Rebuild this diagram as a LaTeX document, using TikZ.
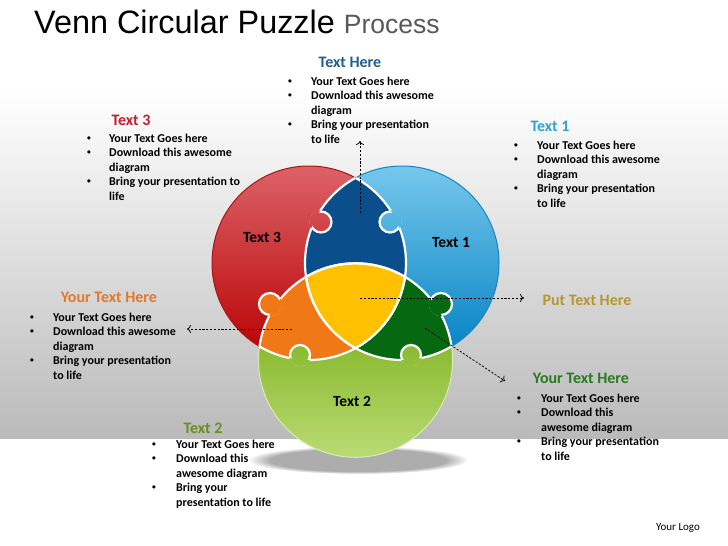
\documentclass[tikz,border=0pt]{standalone}
\usepackage{fontspec}
\setmainfont{Carlito}
\newfontfamily\arialfont{Liberation Sans}
\usetikzlibrary{fadings,arrows.meta}
\definecolor{bgbot}{RGB}{186,186,186}
\definecolor{rtop}{RGB}{220,98,104}
\definecolor{rbot}{RGB}{184,0,0}
\definecolor{routl}{RGB}{170,20,20}
\definecolor{btop}{RGB}{118,200,236}
\definecolor{bbot}{RGB}{0,128,194}
\definecolor{boutl}{RGB}{20,135,195}
\definecolor{gtop}{RGB}{104,163,0}
\definecolor{gbot}{RGB}{186,219,116}
\definecolor{goutl}{RGB}{215,235,180}
\definecolor{dkblue}{RGB}{11,78,140}
\definecolor{orng}{RGB}{240,120,22}
\definecolor{dkgreen}{RGB}{6,104,16}
\definecolor{yel}{RGB}{255,192,0}
\definecolor{hblue}{RGB}{33,94,145}
\definecolor{hred}{RGB}{192,32,42}
\definecolor{hlblue}{RGB}{47,163,217}
\definecolor{horange}{RGB}{226,119,46}
\definecolor{hgold}{RGB}{184,150,46}
\definecolor{hgreen}{RGB}{42,123,31}
\definecolor{hlime}{RGB}{107,142,35}
\definecolor{ttlgray}{RGB}{89,89,89}
\def\RC{(309,263) circle[radius=97]}
\def\BC{(402,263) circle[radius=97]}
\def\GC{(355.5,360.3) circle[radius=97]}
\def\BIG{(0,0) rectangle (728,546)}
\newcommand\bul{\raisebox{1.6pt}{\fontsize{7.5}{8}\selectfont •}}
\begin{document}
\begin{tikzpicture}[x=1pt,y=-1pt,
  wl/.style={draw=white,line width=2.2pt},
  redsh/.style={top color=rtop,bottom color=rbot},
  bluesh/.style={top color=btop,bottom color=bbot},
  grsh/.style={top color=gtop,bottom color=gbot},
  conn/.style={dash pattern=on 2.2pt off 1.6pt,line width=0.75pt,-{To[length=4pt,width=8pt]}},
  hd/.style={font=\fontsize{16}{19}\selectfont\bfseries,anchor=base,inner sep=0pt},
  lst/.style={font=\fontsize{12}{14.5}\selectfont\bfseries,anchor=base west,inner sep=0pt,align=left},
  lbl/.style={font=\fontsize{15.5}{18}\selectfont\bfseries,anchor=base,inner sep=0pt}]
\useasboundingbox \BIG;
% background
\fill[white] \BIG;
\shade[top color=white,bottom color=bgbot] (0,90) rectangle (728,438);
% shadow
\fill[black,opacity=0.32,path fading=circle with fuzzy edge 20 percent] (358,460) ellipse [x radius=110,y radius=14];
% circles
\shade[redsh] \RC; \draw[routl,line width=1pt] \RC;
\shade[bluesh] \BC; \draw[boutl,line width=1pt] \BC;
\shade[grsh] \GC; \draw[goutl,line width=1pt] \GC;
% lenses
\begin{scope}\clip \RC; \fill[dkblue] \BC; \end{scope}
\begin{scope}\clip \RC; \fill[orng] \GC; \end{scope}
\begin{scope}\clip \BC; \fill[dkgreen] \GC; \end{scope}
\begin{scope}\clip \RC; \clip \BC; \fill[yel] \GC; \end{scope}
% internal white arcs
\begin{scope}\clip \RC; \draw[wl] \BC; \draw[wl] \GC; \end{scope}
\begin{scope}\clip \BC; \draw[wl] \RC; \draw[wl] \GC; \end{scope}
\begin{scope}\clip \GC; \draw[wl] \RC; \draw[wl] \BC; \end{scope}
% knob: red into dark blue
\begin{scope}\clip (321,222) circle[radius=10.5]; \shade[redsh] \RC; \end{scope}
\draw[wl] (321,222) circle[radius=10.5];
\begin{scope}[even odd rule]\clip \BIG \BC; \clip (321,222) circle[radius=11.8]; \shade[redsh] \RC; \end{scope}
% knob: blue into dark blue
\begin{scope}\clip (390,222) circle[radius=10.5]; \shade[bluesh] \BC; \end{scope}
\draw[wl] (390,222) circle[radius=10.5];
\begin{scope}[even odd rule]\clip \BIG \RC; \clip (390,222) circle[radius=11.8]; \shade[bluesh] \BC; \end{scope}
% knob: orange into red
\fill[orng] (270,304) circle[radius=11]; \draw[wl] (270,304) circle[radius=11];
\begin{scope}\clip \GC; \fill[orng] (270,304) circle[radius=12.3]; \end{scope}
% knob: dark green into blue
\fill[dkgreen] (441,304) circle[radius=11]; \draw[wl] (441,304) circle[radius=11];
\begin{scope}\clip \GC; \fill[dkgreen] (441,304) circle[radius=12.3]; \end{scope}
% knob: lime into orange
\begin{scope}\clip (300,355) circle[radius=10]; \shade[grsh] \GC; \end{scope}
\draw[wl] (300,355) circle[radius=10];
\begin{scope}[even odd rule]\clip \BIG \RC; \clip (300,355) circle[radius=11.3]; \shade[grsh] \GC; \end{scope}
% knob: lime into dark green
\begin{scope}\clip (411,355) circle[radius=10]; \shade[grsh] \GC; \end{scope}
\draw[wl] (411,355) circle[radius=10];
\begin{scope}[even odd rule]\clip \BIG \BC; \clip (411,355) circle[radius=11.3]; \shade[grsh] \GC; \end{scope}
% circle labels
\node[lbl] (t3) at (262,242) {Text 3};
\node[lbl] (t1) at (451,247) {Text 1};
\node[lbl] (t2) at (352,406) {Text 2};
% connectors
\coordinate (c1s) at (360,213); \coordinate (c1e) at (360,141);
\coordinate (c2s) at (360,298); \coordinate (c2e) at (524,298);
\coordinate (c3s) at (292,329); \coordinate (c3e) at (187,329);
\coordinate (c4s) at (425,328); \coordinate (c4e) at (505,381);
\draw[conn] (c1s) -- (c1e);
\draw[conn] (c2s) -- (c2e);
\draw[conn] (c3s) -- (c3e);
\draw[conn] (c4s) -- (c4e);
% title
\node[anchor=base west,inner sep=0pt,font=\arialfont\fontsize{32.4}{37}\selectfont] (title) at (34,33) {Venn Circular Puzzle \textcolor{ttlgray}{\fontsize{26.5}{30}\selectfont Process}};
% headers
\node[hd,text=hblue] (h0) at (350,67) {Text Here};
\node[hd,text=hred] (h3) at (131,125) {Text 3};
\node[hd,text=hlblue] (h1) at (550,131) {Text 1};
\node[hd,text=horange] (hl) at (109,302) {Your Text Here};
\node[hd,text=hgold] (hp) at (587,305) {Put Text Here};
\node[hd,text=hgreen] (hr) at (581,383) {Your Text Here};
\node[hd,text=hlime] (h2) at (203,433) {Text 2};
% lists
\node[lst] (l0) at (288,85) {\begin{tabular}[t]{@{}p{23pt}@{}l@{}}\bul&Your Text Goes here\\\bul&Download this awesome\\&diagram\\\bul&Bring your presentation\\&to life\end{tabular}};
\node[lst] (l3) at (87,142) {\begin{tabular}[t]{@{}p{22pt}@{}l@{}}\bul&Your Text Goes here\\\bul&Download this awesome\\&diagram\\\bul&Bring your presentation to\\&life\end{tabular}};
\node[lst] (l1) at (514,149) {\begin{tabular}[t]{@{}p{23pt}@{}l@{}}\bul&Your Text Goes here\\\bul&Download this awesome\\&diagram\\\bul&Bring your presentation\\&to life\end{tabular}};
\node[lst] (ll) at (30,321) {\begin{tabular}[t]{@{}p{23pt}@{}l@{}}\bul&Your Text Goes here\\\bul&Download this awesome\\&diagram\\\bul&Bring your presentation\\&to life\end{tabular}};
\node[lst] (lr) at (517,402) {\begin{tabular}[t]{@{}p{24pt}@{}l@{}}\bul&Your Text Goes here\\\bul&Download this\\&awesome diagram\\\bul&Bring your presentation\\&to life\end{tabular}};
\node[lst] (l2) at (152,448) {\begin{tabular}[t]{@{}p{24pt}@{}l@{}}\bul&Your Text Goes here\\\bul&Download this\\&awesome diagram\\\bul&Bring your\\&presentation to life\end{tabular}};
\node[anchor=base,inner sep=0pt,font=\fontsize{11}{13}\selectfont] (logo) at (678,530) {Your Logo};
\end{tikzpicture}
\end{document}
